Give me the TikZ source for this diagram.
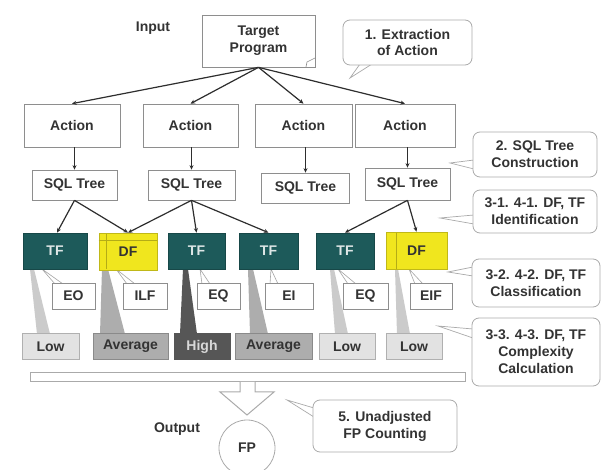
\documentclass[tikz,border=0pt]{standalone}
\usepackage{fontspec}
\setmainfont{Liberation Sans}
\usetikzlibrary{arrows.meta,calc}
\definecolor{txt}{HTML}{333333}
\definecolor{tfcol}{HTML}{1D5A5A}
\definecolor{dfcol}{HTML}{F0E61E}
\definecolor{lowcol}{HTML}{E2E2E2}
\definecolor{avgcol}{HTML}{ADADAD}
\definecolor{highcol}{HTML}{565656}
\definecolor{bord}{HTML}{8E8E8E}
\definecolor{cbord}{HTML}{AAAAAA}
\definecolor{linec}{HTML}{2E2E2E}
\tikzset{
  every node/.style={font=\bfseries\fontsize{14}{17}\selectfont, text=txt},
  box/.style={draw=bord, line width=0.7pt, fill=white, inner sep=0pt, align=center},
  tfbox/.style={box, fill=tfcol, draw=tfcol!80!black, text=white!85!tfcol},
  dfbox/.style={box, fill=dfcol, draw=dfcol!80!black},
  lowbox/.style={box, fill=lowcol, draw=bord!70},
  avgbox/.style={box, fill=avgcol, draw=avgcol!80!black},
  highbox/.style={box, fill=highcol, draw=highcol, text=white!85!black},
  callout/.style={draw=cbord, line width=0.8pt, rounded corners=7pt, fill=white, inner sep=0pt, align=center},
  ctail/.style={draw=cbord, line width=0.7pt, fill=white},
  ptail/.style={draw=bord!80, line width=0.6pt, fill=white},
  conn/.style={draw=linec, line width=1.2pt, -{Stealth[length=4.5pt,width=4pt]}},
  plain/.style={inner sep=0pt, align=center}
}
\begin{document}
\begin{tikzpicture}[x=1pt,y=-1pt]
\useasboundingbox (0,0) rectangle (606,470);
\fill[white] (0,0) rectangle (606,470);

% ---- top ----
\node[plain] (input) at (153,28) {Input};
\node[box, minimum width=113pt, minimum height=52pt] (tp) at (258.5,41) {Target\\Program};
\draw[bord, line width=0.6pt] (315,58) -- (307,62) -- (306,67);

% ---- actions ----
\node[box, minimum width=96pt, minimum height=43pt] (a1) at (72,125.5) {Action};
\node[box, minimum width=95pt, minimum height=43pt] (a2) at (190.5,125.5) {Action};
\node[box, minimum width=97pt, minimum height=43pt] (a3) at (303.5,125.5) {Action};
\node[box, minimum width=100pt, minimum height=43pt] (a4) at (405,125.5) {Action};

% ---- SQL trees ----
\node[box, minimum width=85pt, minimum height=30pt] (s1) at (74.5,185) {SQL Tree};
\node[box, minimum width=87pt, minimum height=30pt] (s2) at (191.5,185) {SQL Tree};
\node[box, minimum width=88pt, minimum height=30pt] (s3) at (305.5,188) {SQL Tree};
\node[box, minimum width=85pt, minimum height=32pt] (s4) at (407.5,184) {SQL Tree};

% ---- complexity wedges ----
\fill[lowcol!90!black] (30,269) -- (34,269) -- (50,334) -- (37,334) -- cycle;
\fill[avgcol] (102,269) -- (108,269) -- (125,334) -- (100,334) -- cycle;
\fill[highcol] (183,269) -- (188,269) -- (197,334) -- (180,334) -- cycle;
\fill[avgcol] (248,269) -- (253,269) -- (268,334) -- (250,334) -- cycle;
\fill[lowcol!90!black] (330,269) -- (334,269) -- (348,334) -- (335,334) -- cycle;
\fill[lowcol!90!black] (395,269) -- (398,269) -- (410,334) -- (397,334) -- cycle;

% ---- classification pointers ----
\path[ptail] (42,269) -- (63,284) -- (55,284) -- cycle;
\path[ptail] (116,269) -- (135,284) -- (127,284) -- cycle;
\path[ptail] (200,269) -- (210,284) -- (202,284) -- cycle;
\path[ptail] (271,269) -- (278,284) -- (270,284) -- cycle;
\path[ptail] (338,269) -- (356,284) -- (348,284) -- cycle;
\path[ptail] (409,269) -- (423,284) -- (415,284) -- cycle;

% ---- TF / DF ----
\node[tfbox, minimum width=64pt, minimum height=36pt] (f1) at (55,251) {TF};
\node[dfbox, minimum width=58pt, minimum height=37pt] (f2) at (128,251.5) {DF};
\node[tfbox, minimum width=57pt, minimum height=36pt] (f3) at (196.5,251) {TF};
\node[tfbox, minimum width=59pt, minimum height=36pt] (f4) at (268.5,251) {TF};
\node[tfbox, minimum width=58pt, minimum height=36pt] (f5) at (345,251) {TF};
\node[dfbox, minimum width=61pt, minimum height=37pt] (f6) at (416.5,250.5) {DF};
\draw[dfcol!75!black, line width=0.5pt] (f2.north west) ++(0,8) -- ++(58,0);
\draw[dfcol!75!black, line width=0.5pt] (106,234) -- (106,269);
\draw[dfcol!75!black, line width=0.5pt] (396,233) -- (396,269);

% ---- classification ----
\node[box, minimum width=43pt, minimum height=26pt] (k1) at (73.5,296) {EO};
\node[box, minimum width=44pt, minimum height=26pt] (k2) at (145,296) {ILF};
\node[box, minimum width=43pt, minimum height=26pt] (k3) at (218.5,296) {EQ};
\node[box, minimum width=48pt, minimum height=26pt] (k4) at (289,296) {EI};
\node[box, minimum width=45pt, minimum height=26pt] (k5) at (365.5,296) {EQ};
\node[box, minimum width=42pt, minimum height=26pt] (k6) at (431,296) {EIF};

% ---- complexity ----
\node[lowbox, minimum width=57pt, minimum height=26pt] (x1) at (50.5,346.5) {Low};
\node[avgbox, minimum width=75pt, minimum height=26pt] (x2) at (130.5,346.5) {Average};
\node[highbox, minimum width=56pt, minimum height=26pt] (x3) at (202,346.5) {High};
\node[avgbox, minimum width=77pt, minimum height=26pt] (x4) at (273.5,346.5) {Average};
\node[lowbox, minimum width=56pt, minimum height=26pt] (x5) at (347,346.5) {Low};
\node[lowbox, minimum width=56pt, minimum height=26pt] (x6) at (414,346.5) {Low};

% ---- connectors ----
\draw[conn] (tp.south) -- (a1.north);
\draw[conn] (tp.south) -- (a2.north);
\draw[conn] (tp.south) -- (a3.north);
\draw[conn] (tp.south) -- (a4.north);
\draw[conn] (a1.south -| s1.north) -- (s1.north);
\draw[conn] (a2.south -| s2.north) -- (s2.north);
\draw[conn] (a3.south -| s3.north) -- (s3.north);
\draw[conn] (a4.south -| s4.north) -- (s4.north);
\draw[conn] (s1.south) -- ($(f1.north)+(2,0)$);
\draw[conn] (s1.south) -- (f2.north);
\draw[conn] (s2.south) -- (f2.north);
\draw[conn] (s2.south) -- (f3.north);
\draw[conn] (s2.south) -- (f4.north);
\draw[conn] (s4.south) -- (f5.north);
\draw[conn] (s4.south) -- (f6.north);

% ---- callouts ----
\coordinate (t1) at (350,78);
\path[ctail] (t1) -- (372,64) -- (360,64) -- cycle;
\node[callout, minimum width=129pt, minimum height=45pt] (c1) at (407.5,42.5) {1. Extraction\\of Action};

\coordinate (t2) at (450,163);
\path[ctail] (t2) -- (474,160) -- (474,169) -- cycle;
\node[callout, minimum width=124pt, minimum height=45pt] (c2) at (535,154.5) {2. SQL Tree\\Construction};

\coordinate (t3) at (440,218);
\path[ctail] (t3) -- (474,215) -- (474,224) -- cycle;
\node[callout, minimum width=124pt, minimum height=43pt] (c3) at (535,211.5) {3-1. 4-1. DF, TF\\Identification};

\coordinate (t4) at (448,272);
\path[ctail] (t4) -- (473,267) -- (473,276) -- cycle;
\node[callout, minimum width=128pt, minimum height=48pt] (c4) at (536,283) {3-2. 4-2. DF, TF\\Classification};

\coordinate (t5) at (438,326);
\path[ctail] (t5) -- (473,329) -- (473,338) -- cycle;
\node[callout, minimum width=128pt, minimum height=68pt] (c5) at (536,352) {3-3. 4-3. DF, TF\\Complexity\\Calculation};

% ---- bar and arrow ----
\draw[cbord, line width=1pt, fill=white] (30,373) rectangle (465,382);
\draw[cbord, line width=1pt, fill=white] (240,382) -- (240,392) -- (220,392) -- (247,415) -- (274,392) -- (255,392) -- (255,382);

\coordinate (t6) at (287,400);
\path[ctail] (t6) -- (314,408) -- (314,417) -- cycle;
\node[callout, minimum width=144pt, minimum height=52pt] (c6) at (385,426) {5. Unadjusted\\FP Counting};

% ---- output ----
\node[plain] (output) at (177,429) {Output};
\node[circle, draw=cbord, line width=0.8pt, minimum size=56pt, inner sep=0pt] (fp) at (247,448) {FP};
\end{tikzpicture}
\end{document}
